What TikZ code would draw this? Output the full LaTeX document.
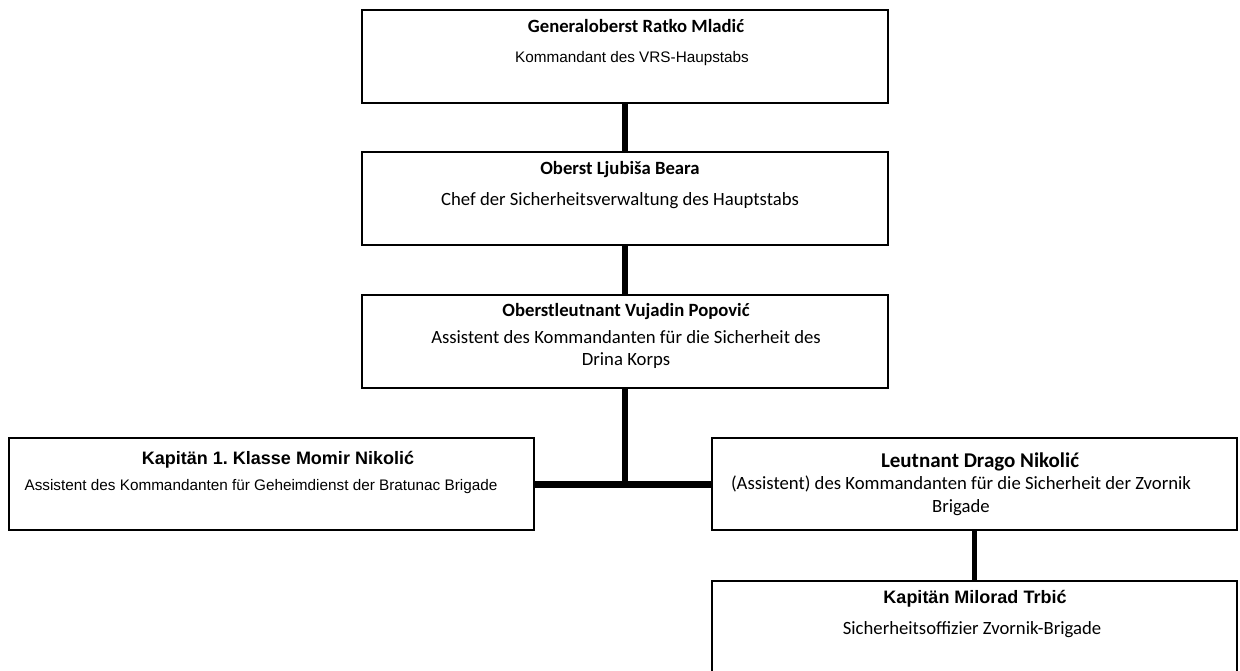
\documentclass[tikz,border=0pt]{standalone}
\usepackage{fontspec}
\newfontfamily\arialf{Liberation Sans}
\newfontfamily\calif{Carlito}
\frenchspacing
\begin{document}
\begin{tikzpicture}[x=1pt,y=-1pt,
  box/.style={draw=black, line width=2pt, minimum width=526pt, minimum height=93pt, inner sep=0pt, outer sep=0pt, fill=white},
  link/.style={draw=black, line width=6pt},
  txt/.style={inner sep=0pt, anchor=mid},
  atitle/.style={txt, font=\arialf\bfseries\fontsize{18}{21}\selectfont},
  abody/.style={txt, font=\arialf\fontsize{15.3}{18}\selectfont},
  ctitle/.style={txt, font=\calif\bfseries\fontsize{18.7}{22}\selectfont},
  ctitlelg/.style={txt, font=\calif\bfseries\fontsize{21}{25}\selectfont},
  cbody/.style={txt, font=\calif\fontsize{18.7}{22}\selectfont}
]
\useasboundingbox (0,0) rectangle (1240,671);
\clip (0,0) rectangle (1240,671);
\fill[white] (0,0) rectangle (1240,671);

% boxes
\node[box] (b1) at (625,56.5) {};
\node[box] (b2) at (625,198.5) {};
\node[box] (b3) at (625,341.5) {};
\node[box, minimum width=525pt, minimum height=92pt] (b4) at (271.5,484) {};
\node[box, minimum width=525pt, minimum height=92pt] (b5) at (974.5,484) {};
\node[box, minimum width=525pt, minimum height=118pt] (b6) at (974.5,640) {};

% connectors
\draw[link] (b1.south) -- (b2.north);
\draw[link] (b2.south) -- (b3.north);
\draw[link, line width=7pt] (b4.east) -- (b5.west);
\draw[link] (b3.south) -- (b3.south |- b4.east);
\draw[link, line width=5pt] (b5.south) -- (b6.north);

% texts
\node[ctitle] (t1) at (636,30) {Generaloberst Ratko Mladić};
\node[abody] (s1) at (632,60) {Kommandant des VRS-Haupstabs};

\node[ctitle] (t2) at (620,172) {Oberst Ljubiša Beara};
\node[cbody] (s2) at (620,203) {Chef der Sicherheitsverwaltung des Hauptstabs};

\node[ctitle] (t3) at (626,314) {Oberstleutnant Vujadin Popović};
\node[cbody] (s3a) at (626,341) {Assistent des Kommandanten für die Sicherheit des};
\node[cbody] (s3b) at (626,363) {Drina Korps};

\node[atitle] (t4) at (278,462) {Kapitän 1. Klasse Momir Nikolić};
\node[abody] (s4) at (261,488) {Assistent des Kommandanten für Geheimdienst der Bratunac Brigade};

\node[ctitlelg] (t5) at (980,465) {Leutnant Drago Nikolić};
\node[cbody] (s5a) at (961,487) {(Assistent) des Kommandanten für die Sicherheit der Zvornik};
\node[cbody] (s5b) at (961,510) {Brigade};

\node[atitle] (t6) at (975,601) {Kapitän Milorad Trbić};
\node[cbody] (s6) at (972,632) {Sicherheitsoffizier Zvornik-Brigade};
\end{tikzpicture}
\end{document}
